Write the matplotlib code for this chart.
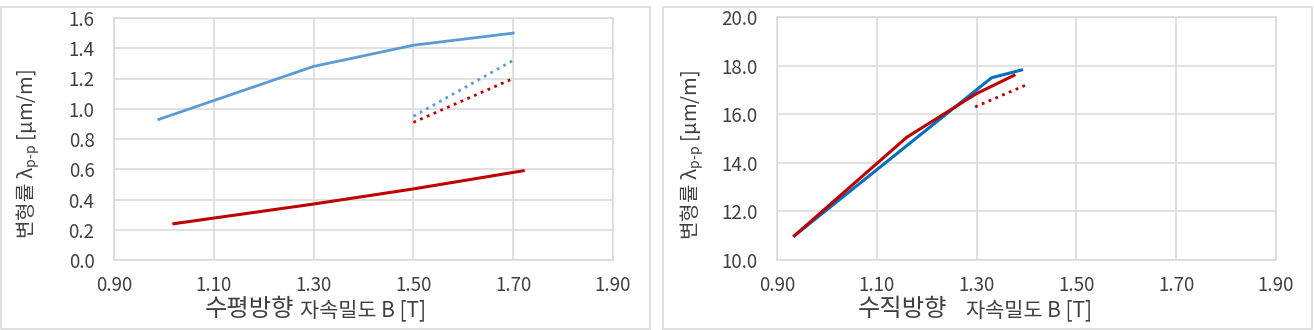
import matplotlib
matplotlib.use("Agg")
from matplotlib import pyplot as plt
from matplotlib.patches import Rectangle
import numpy as np

plt.rcParams['font.family'] = ['Noto Sans CJK KR', 'DejaVu Sans']
plt.rcParams['mathtext.fontset'] = 'custom'
plt.rcParams['mathtext.rm'] = 'Noto Sans CJK KR'
plt.rcParams['mathtext.it'] = 'Noto Sans CJK KR'

# horizontal direction
hor_blue_x = [0.99, 1.30, 1.50, 1.70]
hor_blue_y = [0.93, 1.28, 1.42, 1.50]
hor_red_x = [1.02, 1.30, 1.50, 1.72]
hor_red_y = [0.24, 0.37, 0.47, 0.59]
hor_blue_dot_x = [1.50, 1.70]
hor_blue_dot_y = [0.95, 1.32]
hor_red_dot_x = [1.50, 1.70]
hor_red_dot_y = [0.91, 1.20]

# vertical direction
ver_blue_x = [0.935, 1.33, 1.39]
ver_blue_y = [11.0, 17.5, 17.82]
ver_red_x = [0.935, 1.16, 1.30, 1.375]
ver_red_y = [11.0, 15.05, 16.85, 17.6]
ver_red_dot_x = [1.297, 1.40]
ver_red_dot_y = [16.30, 17.21]

x_ticks = [0.90, 1.10, 1.30, 1.50, 1.70, 1.90]
hor_y_ticks = [0.0, 0.2, 0.4, 0.6, 0.8, 1.0, 1.2, 1.4, 1.6]
ver_y_ticks = [10.0, 12.0, 14.0, 16.0, 18.0, 20.0]

W, H = 1314, 330
fig = plt.figure(figsize=(W / 100, H / 100), dpi=100)

GRID = '#d9d9d9'
TXT = '#404040'
RED = '#c00000'


def px(x, y):
    return x / W, 1 - y / H


# panel frames
for x0, x1 in [(1, 650), (663, 1312)]:
    fig.patches.append(Rectangle((x0 / W, 1 / H), (x1 - x0) / W, (323 - 1) / H,
                                 transform=fig.transFigure, fill=False,
                                 edgecolor=GRID, lw=1.2))


def style(ax, yticks, yfmt):
    ax.set_xlim(0.9, 1.9)
    ax.set_ylim(yticks[0], yticks[-1])
    ax.set_xticks(x_ticks)
    ax.set_xticklabels(['%.2f' % v for v in x_ticks])
    ax.set_yticks(yticks)
    ax.set_yticklabels([yfmt % v for v in yticks])
    ax.grid(True, color=GRID, lw=1.1)
    ax.set_axisbelow(True)
    for s in ax.spines.values():
        s.set_color(GRID)
        s.set_linewidth(1.1)
    ax.tick_params(length=0, labelsize=13.5, labelcolor=TXT)
    ax.tick_params(axis='y', pad=14)
    ax.tick_params(axis='x', pad=11)


ax1 = fig.add_axes([114 / W, 70 / H, 499 / W, 242 / H])
ax1.plot(hor_blue_x, hor_blue_y, color='#5b9bd5', lw=2)
ax1.plot(hor_red_x, hor_red_y, color=RED, lw=2.2)
ax1.plot(hor_blue_dot_x, hor_blue_dot_y, color='#5b9bd5', lw=2, ls=':')
ax1.plot(hor_red_dot_x, hor_red_dot_y, color=RED, lw=2, ls=':')
style(ax1, hor_y_ticks, '%.1f')

ax2 = fig.add_axes([777 / W, 70 / H, 499 / W, 243 / H])
ax2.plot(ver_blue_x, ver_blue_y, color='#0070c0', lw=2.2)
ax2.plot(ver_red_x, ver_red_y, color=RED, lw=2.2)
ax2.plot(ver_red_dot_x, ver_red_dot_y, color=RED, lw=2, ls=':')
style(ax2, ver_y_ticks, '%.1f')

ylab = '변형률 λ$_{\\mathrm{p\\text{-}p}}$ [μm/m]'
fig.text(*px(28, 154), ylab, rotation=90, ha='center', va='center',
         fontsize=14.5, color=TXT)
fig.text(*px(692, 155), ylab, rotation=90, ha='center', va='center',
         fontsize=14.5, color=TXT)

# x labels, direction word drawn larger
fig.text(*px(205, 316), '수평방향', ha='left', va='baseline', fontsize=17.5, color=TXT)
fig.text(*px(300, 316), '자속밀도 B [T]', ha='left', va='baseline', fontsize=15, color=TXT)
fig.text(*px(858, 316), '수직방향', ha='left', va='baseline', fontsize=17.5, color=TXT)
fig.text(*px(966, 316), '자속밀도 B [T]', ha='left', va='baseline', fontsize=15, color=TXT)

fig.savefig('out.png', dpi=100)
